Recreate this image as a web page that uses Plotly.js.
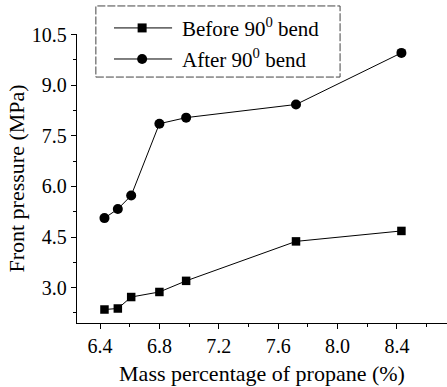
<!DOCTYPE html>
<html>
<head>
<meta charset="utf-8">
<script src="https://cdn.plot.ly/plotly-3.0.1.min.js"></script>
<style>html,body{margin:0;padding:0;background:#fff;}#chart{width:447px;height:387px;}</style>
</head>
<body>
<div id="chart"></div>
<script>
// Data
const massPct = [6.43, 6.52, 6.61, 6.80, 6.98, 7.72, 8.43];
const beforeBend = [2.35, 2.38, 2.72, 2.87, 3.20, 4.37, 4.68];
const afterBend = [5.06, 5.33, 5.73, 7.86, 8.04, 8.43, 9.96];
const seriesNames = ['Before 90<sup>0</sup> bend', 'After 90<sup>0</sup> bend'];
const xTickVals = [6.4, 6.8, 7.2, 7.6, 8.0, 8.4];
const xTickText = ['6.4', '6.8', '7.2', '7.6', '8.0', '8.4'];
const yTickVals = [3.0, 4.5, 6.0, 7.5, 9.0, 10.5];
const yTickText = ['3.0', '4.5', '6.0', '7.5', '9.0', '10.5'];

const FONT = 'Liberation Serif, Times New Roman, serif';

const traces = [
  {x: massPct, y: beforeBend, name: seriesNames[0], type: 'scatter', mode: 'lines+markers',
   line: {color: '#000', width: 1}, marker: {symbol: 'square', size: 8.5, color: '#000'}},
  {x: massPct, y: afterBend, name: seriesNames[1], type: 'scatter', mode: 'lines+markers',
   line: {color: '#000', width: 1}, marker: {symbol: 'circle', size: 10, color: '#000'}}
];

// custom legend in paper coordinates
const lx0 = 0.100, lx1 = 0.257, mx = 0.176, tx = 0.278;
const ly = [1.021, 0.9135];
const dx = 4.5 / 370, dy = 4.5 / 289, rx = 5 / 370, ry = 5 / 289;
const shapes = [
  {type: 'rect', xref: 'paper', yref: 'paper', x0: 0.051, x1: 0.711, y0: 0.851, y1: 1.097,
   line: {color: '#444', width: 1, dash: '8px,2px'}, fillcolor: 'rgba(0,0,0,0)'}
];
const annotations = [];
ly.forEach((yy, i) => {
  shapes.push({type: 'line', xref: 'paper', yref: 'paper', x0: lx0, x1: lx1, y0: yy, y1: yy,
               line: {color: '#000', width: 1}});
  if (i === 0) {
    shapes.push({type: 'rect', xref: 'paper', yref: 'paper', x0: mx - dx, x1: mx + dx, y0: yy - dy, y1: yy + dy,
                 line: {width: 0}, fillcolor: '#000'});
  } else {
    shapes.push({type: 'circle', xref: 'paper', yref: 'paper', x0: mx - rx, x1: mx + rx, y0: yy - ry, y1: yy + ry,
                 line: {width: 0}, fillcolor: '#000'});
  }
  annotations.push({xref: 'paper', yref: 'paper', x: tx, y: yy, xanchor: 'left', yanchor: 'middle',
                    text: seriesNames[i], showarrow: false, font: {family: FONT, size: 21, color: '#000'}});
});

const layout = {
  width: 447, height: 387,
  margin: {l: 77, r: 0, t: 34, b: 64, pad: 0},
  paper_bgcolor: '#fff', plot_bgcolor: '#fff',
  showlegend: false,
  font: {family: FONT, size: 20, color: '#000'},
  xaxis: {
    range: [6.245, 8.737], showgrid: false, zeroline: false, automargin: false,
    showline: true, linecolor: '#000', linewidth: 1.3,
    ticks: 'outside', ticklen: 5, tickcolor: '#000', tickwidth: 1,
    tickvals: xTickVals, ticktext: xTickText,
    tickfont: {family: FONT, size: 20, color: '#000'},
    minor: {dtick: 0.2, tick0: 6.4, ticks: 'outside', ticklen: 3, tickcolor: '#000', showgrid: false},
    title: {text: 'Mass percentage of propane (%)', font: {family: FONT, size: 22, color: '#000'}, standoff: 9}
  },
  yaxis: {
    range: [1.95, 10.52], showgrid: false, zeroline: false, automargin: false,
    showline: true, linecolor: '#000', linewidth: 1.3,
    ticks: 'outside', ticklen: 5, tickcolor: '#000', tickwidth: 1,
    tickvals: yTickVals, ticktext: yTickText,
    tickfont: {family: FONT, size: 20, color: '#000'},
    minor: {dtick: 0.75, tick0: 3.0, ticks: 'outside', ticklen: 3, tickcolor: '#000', showgrid: false},
    title: {text: 'Front pressure (MPa)', font: {family: FONT, size: 22, color: '#000'}, standoff: 1}
  },
  shapes: shapes,
  annotations: annotations
};

Plotly.newPlot('chart', traces, layout, {displayModeBar: false, staticPlot: true});
</script>
</body>
</html>
